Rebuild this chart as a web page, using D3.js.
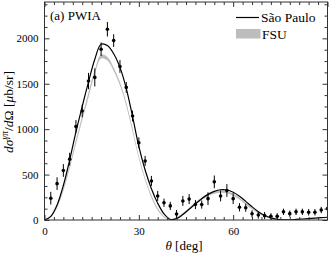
<!DOCTYPE html>
<html>
<head>
<meta charset="utf-8">
<script src="https://cdnjs.cloudflare.com/ajax/libs/d3/7.8.5/d3.min.js"></script>
<style>
  body { margin: 0; background: #fff; }
  svg text { font-family: "Liberation Serif", "Times New Roman", "DejaVu Serif", serif; fill: #000; }
</style>
</head>
<body>
<div id="vis"></div>
<script>
// theory curves, sampled every 2 deg
const curveAngles = [0,2,4,6,8,10,12,14,16,18,20,22,24,26,28,30,32,34,36,38,40,42,44,46,48,50,52,54,56,58,60,62,64,66,68,70,72,74,76,78,80,82,84,86,88,90];
const saoPaulo = [0,40,165,380,660,970,1250,1520,1770,1935,1920,1830,1680,1450,1140,810,550,345,185,68,6,15,60,118,178,235,282,315,333,330,305,262,205,145,92,52,24,8,2,2,6,11,16,21,26,30];
const fsuLow  = [0,30,135,320,565,835,1095,1350,1605,1778,1755,1640,1480,1255,970,675,435,245,108,28,0,18,62,115,172,222,262,288,300,294,268,226,171,117,71,35,12,1,0,0,3,7,11,15,19,23];
const fsuHigh = [0,40,155,350,605,885,1145,1410,1655,1822,1795,1680,1520,1295,1010,705,465,275,132,42,6,32,78,135,198,248,288,312,324,316,288,244,189,133,85,45,18,5,2,4,7,11,15,19,23,27];

// measured points
const dataAngles = [2,4,6,8,10,12,14,16,18,20,22,24,26,28,30,32,34,36,38,40,42,44,46,48,50,52,54,56,58,60,62,64,66,68,70,72,74,76,78,80,82,84,86,88,90];
const dataValues = [240,400,545,670,1030,1200,1530,1570,1880,2100,1975,1690,1460,1145,850,650,430,265,190,155,65,210,230,170,170,235,420,265,325,235,140,135,68,55,48,40,40,90,70,90,90,85,85,110,125];
const dataErrors = [70,70,70,70,70,70,90,100,75,80,70,70,60,60,60,55,55,55,45,45,45,55,55,50,45,70,70,60,70,60,45,45,40,40,40,35,35,35,35,35,35,35,35,35,40];

const xTicks = [0,30,60];
const yTicks = [0,500,1000,1500,2000];

const w = 329, h = 255;
const mLeft = 44.5, mRight = 327.5, mTop = 2, mBottom = 220;
const serif = '"Liberation Serif", "Times New Roman", "DejaVu Serif", serif';

const svg = d3.select("#vis").append("svg")
    .attr("width", w).attr("height", h);

const x = d3.scaleLinear().domain([0, 90]).range([mLeft, mRight]);
const y = d3.scaleLinear().domain([0, 2400]).range([mBottom, mTop]);

svg.append("clipPath").attr("id", "clip")
  .append("rect").attr("x", mLeft).attr("y", mTop)
  .attr("width", mRight - mLeft).attr("height", mBottom - mTop);

const plot = svg.append("g").attr("clip-path", "url(#clip)");

// FSU band
const band = curveAngles.map((a, i) => ({a: a, lo: fsuLow[i], hi: fsuHigh[i]}));
plot.append("path")
    .datum(band)
    .attr("fill", "#bdbdbd")
    .attr("d", d3.area()
        .x(d => x(d.a))
        .y0(d => y(d.lo))
        .y1(d => y(d.hi))
        .curve(d3.curveCatmullRom));

// São Paulo line
plot.append("path")
    .datum(curveAngles.map((a, i) => [a, saoPaulo[i]]))
    .attr("fill", "none")
    .attr("stroke", "#000")
    .attr("stroke-width", 1.2)
    .attr("d", d3.line()
        .x(d => x(d[0]))
        .y(d => y(d[1]))
        .curve(d3.curveCatmullRom));

// data with error bars
const pts = dataAngles.map((a, i) => ({a: a, v: dataValues[i], e: dataErrors[i]}));
plot.selectAll("line.err")
    .data(pts)
    .join("line")
    .attr("class", "err")
    .attr("x1", d => x(d.a)).attr("x2", d => x(d.a))
    .attr("y1", d => y(d.v - d.e)).attr("y2", d => y(d.v + d.e))
    .attr("stroke", "#000").attr("stroke-width", 1);
plot.selectAll("circle")
    .data(pts)
    .join("circle")
    .attr("cx", d => x(d.a)).attr("cy", d => y(d.v))
    .attr("r", 1.8).attr("fill", "#000");

// axes, ticks pointing inwards
const frameColor = "#333";
function styleAxis(g) {
  g.attr("font-family", serif);
  g.select(".domain").remove();
  g.selectAll("line").attr("stroke", frameColor);
  g.selectAll("text").attr("font-size", 11).style("font-family", serif);
}
const xMinor = d3.range(0, 91, 3).filter(v => v % 30 !== 0);
const yMinor = d3.range(0, 2401, 125).filter(v => v % 500 !== 0);

svg.append("g").attr("transform", `translate(0,${mBottom})`)
    .call(d3.axisBottom(x).tickValues(xTicks).tickSize(-5).tickPadding(7).tickFormat(d3.format("d")))
    .call(styleAxis);
svg.append("g").attr("transform", `translate(0,${mBottom})`)
    .call(d3.axisBottom(x).tickValues(xMinor).tickSize(-3).tickFormat(""))
    .call(styleAxis);
svg.append("g").attr("transform", `translate(0,${mTop})`)
    .call(d3.axisTop(x).tickValues(xTicks.concat([90])).tickSize(-5).tickFormat(""))
    .call(styleAxis);
svg.append("g").attr("transform", `translate(0,${mTop})`)
    .call(d3.axisTop(x).tickValues(xMinor).tickSize(-3).tickFormat(""))
    .call(styleAxis);

svg.append("g").attr("transform", `translate(${mLeft},0)`)
    .call(d3.axisLeft(y).tickValues(yTicks).tickSize(-5).tickPadding(6).tickFormat(d3.format("d")))
    .call(styleAxis);
svg.append("g").attr("transform", `translate(${mLeft},0)`)
    .call(d3.axisLeft(y).tickValues(yMinor).tickSize(-3).tickFormat(""))
    .call(styleAxis);
svg.append("g").attr("transform", `translate(${mRight},0)`)
    .call(d3.axisRight(y).tickValues(yTicks).tickSize(-5).tickFormat(""))
    .call(styleAxis);
svg.append("g").attr("transform", `translate(${mRight},0)`)
    .call(d3.axisRight(y).tickValues(yMinor).tickSize(-3).tickFormat(""))
    .call(styleAxis);

// frame
svg.append("rect")
    .attr("x", mLeft).attr("y", mTop)
    .attr("width", mRight - mLeft).attr("height", mBottom - mTop)
    .attr("fill", "none").attr("stroke", frameColor).attr("stroke-width", 1);

// panel label
svg.append("text").attr("x", 50).attr("y", 19.5)
    .attr("font-size", 13).style("font-family", serif).text("(a) PWIA");

// legend
svg.append("line")
    .attr("x1", 236).attr("x2", 259).attr("y1", 17.5).attr("y2", 17.5)
    .attr("stroke", "#000").attr("stroke-width", 1.2);
svg.append("text").attr("x", 261).attr("y", 21.5)
    .attr("font-size", 13.5).style("font-family", serif).text("São Paulo");
svg.append("rect")
    .attr("x", 236).attr("y", 29).attr("width", 24.5).attr("height", 9.5)
    .attr("fill", "#bdbdbd");
svg.append("text").attr("x", 262).attr("y", 38.5)
    .attr("font-size", 13.5).style("font-family", serif).text("FSU");

// axis titles
const xt = svg.append("text").attr("x", 184).attr("y", 250)
    .attr("text-anchor", "middle").attr("font-size", 13).style("font-family", serif);
xt.append("tspan").attr("font-style", "italic").text("θ");
xt.append("tspan").text(" [deg]");

const yt = svg.append("text")
    .attr("transform", "translate(13,112) rotate(-90)")
    .attr("text-anchor", "middle").attr("font-size", 13.5).style("font-family", serif);
yt.append("tspan").attr("font-style", "italic").text("dσ");
yt.append("tspan").attr("font-style", "italic").attr("font-size", 9.5).attr("dy", -5).text("γπ");
yt.append("tspan").attr("dy", 5).text("/");
yt.append("tspan").attr("font-style", "italic").text("d");
yt.append("tspan").text("Ω [");
yt.append("tspan").attr("font-style", "italic").text("μ");
yt.append("tspan").text("b/sr]");
</script>
</body>
</html>
